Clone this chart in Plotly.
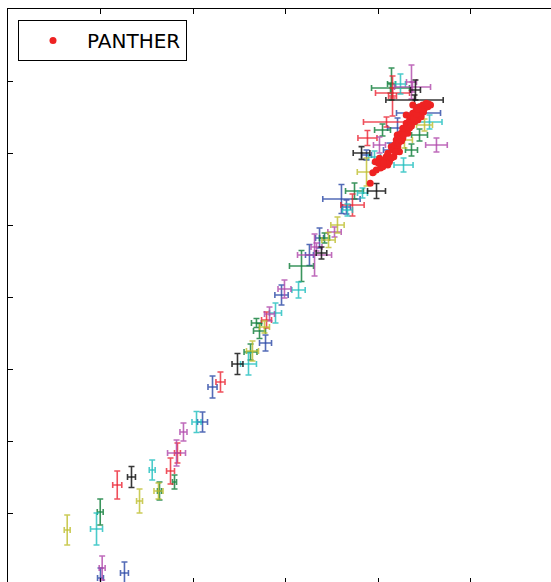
import plotly.graph_objects as go

# ---------------- data ----------------
# error-bar measurements: centre, half-widths and series colour code
err_x = [0.640, 0.957, 0.997, 1.181, 1.335, 1.422, 1.559, 1.627, 1.638, 1.800,
         1.757, 1.018, 1.000, 1.259, 1.822, 1.832, 1.897, 2.038, 2.103, 2.211,
         2.297, 2.481, 2.600, 2.643, 2.622, 2.784, 2.719, 2.686, 2.773, 2.795,
         2.827, 2.892, 2.957, 2.989, 3.141, 3.173, 3.314, 3.259, 3.389, 3.368,
         3.335, 3.422, 3.465, 3.530, 3.562, 3.670, 3.659, 3.724, 3.605, 3.746,
         3.832, 3.984, 3.876, 3.822, 3.876, 3.886, 4.092, 4.049, 4.362, 4.373,
         4.146, 4.157, 4.243, 4.405, 4.395, 4.135, 4.157, 4.438, 4.557, 4.632,
         4.276, 4.449, 4.211, 4.286, 4.503, 4.016, 4.124, 3.962, 4.362]
err_y = [0.764, 0.778, 1.014, 1.389, 1.500, 1.167, 1.597, 1.306, 1.306, 1.431,
         1.583, 0.236, 0.097, 0.167, 1.833, 1.833, 2.125, 2.264, 2.264, 2.750,
         2.819, 3.069, 3.069, 3.250, 3.236, 3.361, 3.528, 3.639, 3.583, 3.681,
         3.764, 3.778, 4.028, 4.111, 4.097, 4.431, 4.583, 4.583, 4.611, 4.819,
         4.694, 4.819, 4.792, 4.903, 5.000, 5.208, 5.250, 5.278, 5.361, 5.472,
         5.444, 5.472, 5.736, 6.000, 5.972, 6.208, 6.431, 6.319, 6.986, 6.917,
         6.958, 6.792, 6.958, 6.875, 6.736, 6.903, 6.833, 6.556, 6.431, 6.111,
         5.833, 6.250, 6.347, 6.181, 6.389, 6.111, 6.042, 5.944, 6.042]
err_dx = [0.032, 0.065, 0.032, 0.049, 0.043, 0.032, 0.032, 0.049, 0.022, 0.022,
          0.043, 0.032, 0.032, 0.043, 0.097, 0.032, 0.038, 0.049, 0.054, 0.049,
          0.049, 0.059, 0.086, 0.065, 0.070, 0.065, 0.065, 0.054, 0.054, 0.054,
          0.054, 0.065, 0.072, 0.070, 0.072, 0.130, 0.184, 0.043, 0.057, 0.043,
          0.059, 0.054, 0.072, 0.072, 0.072, 0.054, 0.043, 0.126, 0.202, 0.097,
          0.054, 0.097, 0.100, 0.090, 0.054, 0.103, 0.249, 0.086, 0.054, 0.195,
          0.043, 0.043, 0.054, 0.054, 0.310, 0.205, 0.184, 0.238, 0.135, 0.117,
          0.103, 0.086, 0.108, 0.086, 0.086, 0.065, 0.065, 0.065, 0.065]
err_dy = [0.208, 0.222, 0.181, 0.194, 0.146, 0.167, 0.139, 0.111, 0.125, 0.097,
          0.181, 0.167, 0.139, 0.153, 0.181, 0.139, 0.125, 0.146, 0.139, 0.153,
          0.139, 0.146, 0.153, 0.139, 0.111, 0.111, 0.104, 0.063, 0.083, 0.111,
          0.097, 0.139, 0.139, 0.125, 0.111, 0.215, 0.292, 0.146, 0.083, 0.139,
          0.056, 0.069, 0.104, 0.069, 0.111, 0.083, 0.097, 0.153, 0.201, 0.111,
          0.069, 0.104, 0.194, 0.088, 0.069, 0.104, 0.069, 0.083, 0.236, 0.069,
          0.222, 0.278, 0.139, 0.139, 0.069, 0.069, 0.069, 0.069, 0.097, 0.097,
          0.097, 0.083, 0.139, 0.111, 0.083, 0.111, 0.097, 0.083, 0.083]
err_series = ["y", "c", "g", "r", "k", "y", "c", "y", "g", "g",
              "r", "m", "b", "b", "m", "r", "m", "c", "b", "b",
              "r", "k", "c", "y", "g", "b", "g", "g", "y", "r",
              "m", "c", "b", "m", "c", "g", "m", "b", "k", "b",
              "m", "g", "y", "m", "y", "c", "b", "r", "b", "g",
              "c", "k", "y", "k", "b", "r", "r", "g", "m", "m",
              "g", "r", "c", "k", "k", "g", "r", "b", "c", "m",
              "c", "g", "b", "y", "y", "m", "b", "c", "g"]

# PANTHER points
panther_x = [3.916, 3.944, 3.970, 3.981, 4.027, 4.016, 4.052, 4.070, 4.089, 4.106,
             4.106, 4.124, 4.143, 4.160, 4.171, 4.178, 4.197, 4.208, 4.214, 4.232,
             4.251, 4.268, 4.268, 4.286, 4.305, 4.305, 4.322, 4.322, 4.341, 4.359,
             4.359, 4.376, 4.376, 4.395, 4.413, 4.430, 4.430, 4.449, 4.467, 4.467,
             4.484, 4.503, 4.521, 4.538, 4.568, 4.005, 4.059, 4.146, 4.189, 4.222,
             4.254, 4.276, 4.341, 4.384, 4.416, 4.492, 4.546, 4.427, 4.362]
panther_y = [5.579, 5.726, 5.879, 5.764, 5.792, 5.926, 5.810, 5.903, 5.949, 5.996,
             5.833, 5.879, 6.088, 6.042, 5.949, 6.111, 6.181, 6.250, 6.088, 6.018,
             6.274, 6.343, 6.204, 6.296, 6.413, 6.528, 6.365, 6.274, 6.458, 6.504,
             6.413, 6.551, 6.667, 6.435, 6.597, 6.528, 6.458, 6.643, 6.574, 6.504,
             6.667, 6.621, 6.690, 6.643, 6.667, 5.861, 5.861, 5.931, 6.014, 6.139,
             6.167, 6.250, 6.347, 6.486, 6.542, 6.569, 6.681, 6.611, 6.375]

x_ticks = [1, 2, 3, 4, 5]
y_ticks = [1, 2, 3, 4, 5, 6, 7]

# ---------------- styling ----------------
palette = {
    "b": "rgba(40,70,165,0.8)",
    "g": "rgba(25,130,65,0.85)",
    "r": "rgba(235,35,50,0.8)",
    "c": "rgba(30,190,190,0.8)",
    "m": "rgba(175,70,170,0.8)",
    "y": "rgba(190,190,45,0.8)",
    "k": "rgba(20,20,20,0.85)",
}

fig = go.Figure()

for code in ["b", "g", "r", "c", "m", "y", "k"]:
    idx = [i for i, s in enumerate(err_series) if s == code]
    if not idx:
        continue
    col = palette[code]
    fig.add_trace(go.Scatter(
        x=[err_x[i] for i in idx],
        y=[err_y[i] for i in idx],
        mode="markers",
        marker=dict(size=1, color="rgba(0,0,0,0)"),
        error_x=dict(type="data", array=[err_dx[i] for i in idx],
                     color=col, thickness=1.6, width=3),
        error_y=dict(type="data", array=[err_dy[i] for i in idx],
                     color=col, thickness=1.6, width=3),
        showlegend=False,
        hoverinfo="skip",
    ))

fig.add_trace(go.Scatter(
    x=panther_x, y=panther_y, mode="markers", name="PANTHER",
    marker=dict(size=7, color="#ee2222", line=dict(width=0)),
    showlegend=True,
))

x_range = [0, 543 / 92.5]
y_range = [8 - 573 / 72, 8]

fig.update_layout(
    width=551, height=582,
    margin=dict(l=8, r=0, t=9, b=0, pad=0),
    paper_bgcolor="white", plot_bgcolor="white",
    font=dict(family="DejaVu Sans", color="black"),
    xaxis=dict(range=x_range, side="top", showline=True, linecolor="black",
               linewidth=1, mirror=False, ticks="inside", ticklen=5,
               tickwidth=1, tickcolor="black", tickvals=x_ticks,
               showticklabels=False, showgrid=False, zeroline=False),
    xaxis2=dict(range=x_range, overlaying="x", side="bottom", anchor="y",
                showline=False, ticks="inside", ticklen=4, tickwidth=1,
                tickcolor="black", tickvals=x_ticks, showticklabels=False,
                showgrid=False, zeroline=False),
    yaxis=dict(range=y_range, showline=True, linecolor="black", linewidth=1,
               mirror=False, ticks="inside", ticklen=5, tickwidth=1,
               tickcolor="black", tickvals=y_ticks, showticklabels=False,
               showgrid=False, zeroline=False),
    legend=dict(x=(18 - 8) / 543, y=1 - (20 - 9) / 573, xanchor="left",
                yanchor="top", bordercolor="black", borderwidth=1,
                bgcolor="white", font=dict(size=20, family="DejaVu Sans"),
                itemwidth=58),
)
# dummy trace to activate the bottom tick axis
fig.add_trace(go.Scatter(x=[None], y=[None], xaxis="x2", showlegend=False,
                         hoverinfo="skip"))

fig.write_html("out.html", config={"displayModeBar": False},
               post_script="document.body.style.margin='0';")
